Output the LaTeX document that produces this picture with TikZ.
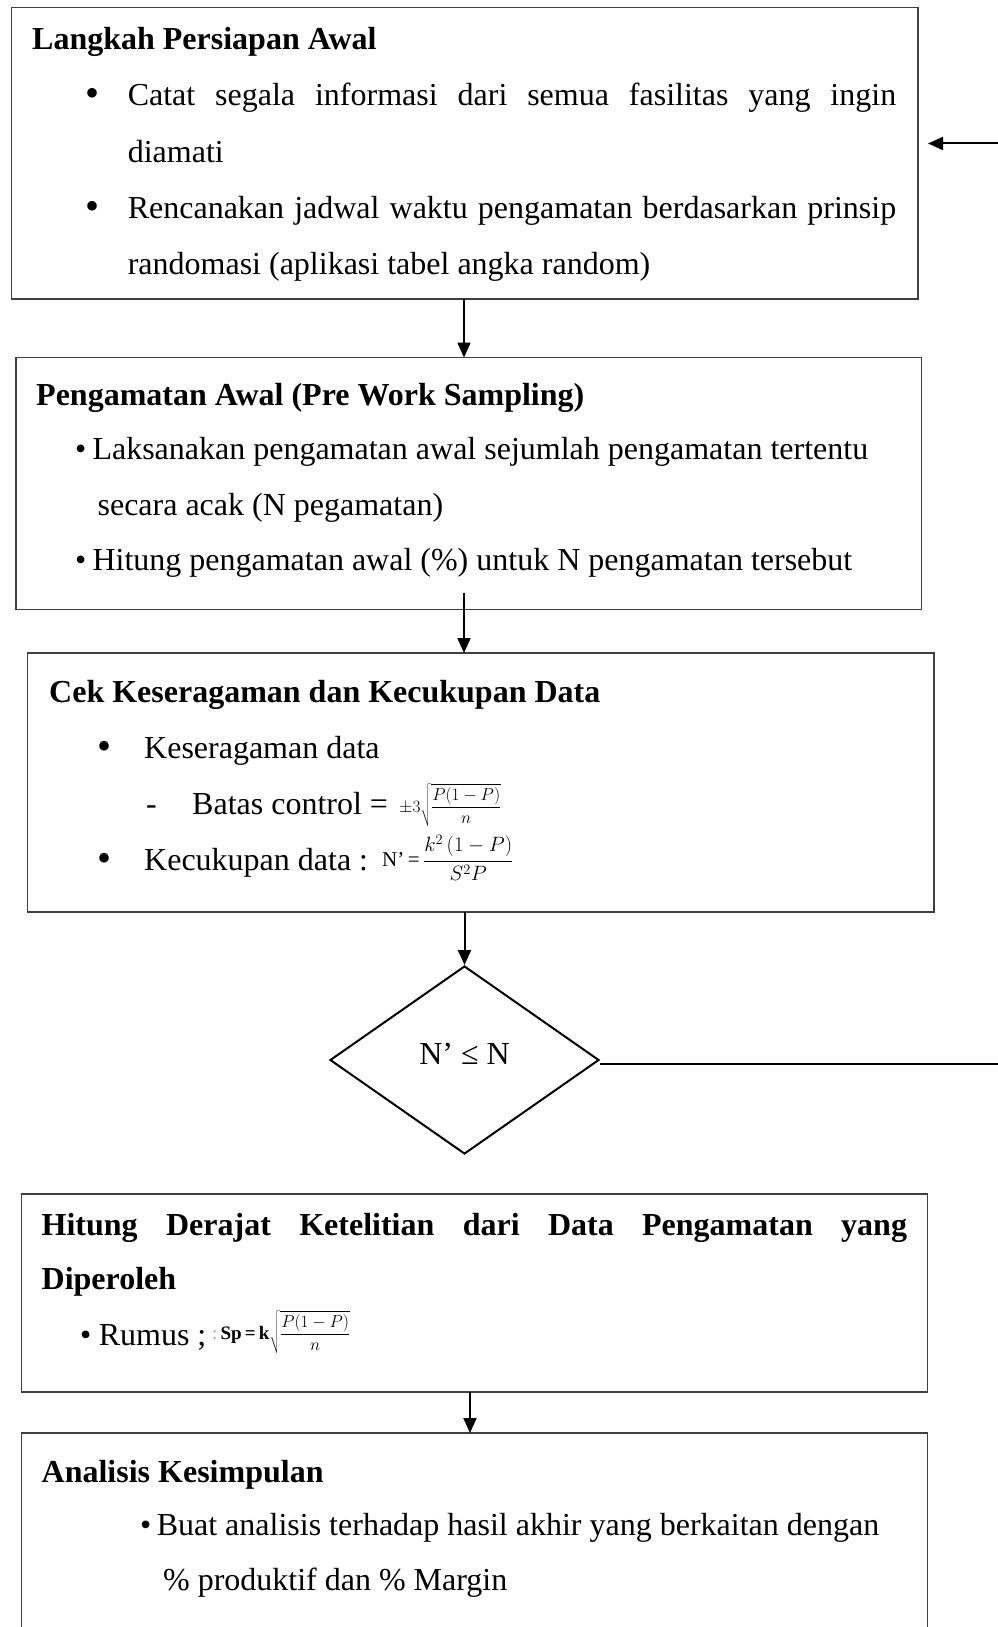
\documentclass[tikz,border=0pt]{standalone}
\usepackage{fontspec}
\setmainfont{Liberation Serif}
\usetikzlibrary{arrows.meta,shapes.geometric}
\begin{document}
\begin{tikzpicture}[x=1pt,y=-1pt,
  box/.style={draw=black!75, line width=1.3pt, anchor=north west, inner sep=0pt, outer sep=0pt},
  txt/.style={anchor=base west, inner sep=0pt, font=\fontsize{32}{40}\selectfont},
  hd/.style={txt, font=\fontsize{32}{40}\selectfont\bfseries},
  bigb/.style={anchor=base west, inner sep=0pt, font=\fontsize{40}{40}\selectfont},
  fml/.style={anchor=base west, inner sep=0pt},
  arr/.style={line width=2pt, -{Triangle[length=15pt,width=13pt]}},
  lnk/.style={line width=2pt}]
\useasboundingbox (0,0) rectangle (998,1627);
\clip (0,0) rectangle (998,1627);
\fill[white] (0,0) rectangle (998,1627);

% boxes
\node[box, minimum width=906.5pt, minimum height=291.5pt] (b1) at (11.5,7.5) {};
\node[box, minimum width=905.7pt, minimum height=252pt] (b2) at (16,357.5) {};
\node[box, minimum width=906.6pt, minimum height=259pt] (b3) at (27.4,653) {};
\node[diamond, draw, line width=2pt, minimum width=269pt, minimum height=188pt, inner sep=0pt] (d) at (464.5,1060) {};
\node[box, minimum width=905.9pt, minimum height=198pt] (b4) at (21.6,1194) {};
\node[box, minimum width=905.9pt, minimum height=260pt] (b5) at (21.6,1433) {};

% box 1 text
\node[hd] (t1h) at (32,50) {Langkah Persiapan Awal};
\node[bigb] (t1b1) at (85,107) {•};
\node[txt] (t1l1) at (127.6,106) {\makebox[768.4pt][s]{Catat segala informasi dari semua fasilitas yang ingin}};
\node[txt] (t1l2) at (127.6,162) {diamati};
\node[bigb] (t1b2) at (85,219) {•};
\node[txt] (t1l3) at (127.6,218) {\makebox[768.4pt][s]{Rencanakan jadwal waktu pengamatan berdasarkan prinsip}};
\node[txt] (t1l4) at (127.6,274) {randomasi (aplikasi tabel angka random)};

% box 2 text
\node[hd] (t2h) at (36,405.5) {Pengamatan Awal (Pre Work Sampling)};
\node[txt] (t2b1) at (75,459.5) {•};
\node[txt] (t2l1) at (92.3,459.5) {Laksanakan pengamatan awal sejumlah pengamatan tertentu};
\node[txt] (t2l2) at (97.4,515.5) {secara acak (N pegamatan)};
\node[txt] (t2b2) at (75,570.5) {•};
\node[txt] (t2l3) at (92.3,570.5) {Hitung pengamatan awal (\%) untuk N pengamatan tersebut};

% box 3 text
\node[hd] (t3h) at (49,702) {Cek Keseragaman dan Kecukupan Data};
\node[bigb] (t3b1) at (97.5,759.5) {•};
\node[txt] (t3l1) at (144,758.5) {Keseragaman data};
\node[txt] (t3d) at (146,814.5) {-};
\node[txt] (t3l2) at (192,814.5) {Batas control =};
\node[fml, font=\fontsize{18.5}{18.5}\selectfont] (t3f1) at (399,812) {$\pm3\sqrt{\displaystyle\frac{P(1-P)}{n}}$};
\node[bigb] (t3b2) at (97.5,871.5) {•};
\node[txt] (t3l3) at (144,870.5) {Kecukupan data :};
\node[fml, font=\fontsize{21}{21}\selectfont] (t3f2) at (382,866) {N’\,=\,$\displaystyle\frac{k^2\,(1-P)}{S^2P}$};

% diamond text
\node[anchor=base, inner sep=0pt, font=\fontsize{32}{40}\selectfont] (dt) at (464.5,1064) {N’ ≤ N};

% box 4 text
\node[hd] (t4h) at (41.5,1235.5) {\makebox[865.3pt][s]{Hitung Derajat Ketelitian dari Data Pengamatan yang}};
\node[hd] (t4l1) at (41.5,1289.5) {Diperoleh};
\node[txt] (t4b) at (80,1345.5) {•};
\node[txt] (t4l2) at (98.6,1345.5) {Rumus ;};
\node[fml, font=\fontsize{19}{19}\selectfont] (t4f) at (212,1339) {{\color{black!35}:}\,\textbf{Sp\,=\,k}$\sqrt{\displaystyle\frac{P(1-P)}{n}}$};

% box 5 text
\node[hd] (t5h) at (41.5,1482.5) {Analisis Kesimpulan};
\node[txt] (t5b) at (140,1535.5) {•};
\node[txt] (t5l1) at (156.6,1535.5) {Buat analisis terhadap hasil akhir yang berkaitan dengan};
\node[txt] (t5l2) at (162.9,1590.5) {\% produktif dan \% Margin};

% connectors
\coordinate (cx) at (464,0);
\coordinate (ax) at (470,0);
\coordinate (rb) at (1012,1063.5);
\coordinate (rt) at (1012,143.5);
\draw[arr] (b1.south -| cx) -- (b2.north -| cx);
\draw[arr] ([yshift=17pt]b2.south -| cx) -- (b3.north -| cx);
\draw[arr] (b3.south -| d.north) -- (d.north);
\draw[arr] (b4.south -| ax) -- (b5.north -| ax);
\draw[arr, shorten >=10pt] ([yshift=-3.5pt]d.east) -- (rb) -- (rt) -- (rt -| b1.east);
\end{tikzpicture}
\end{document}
